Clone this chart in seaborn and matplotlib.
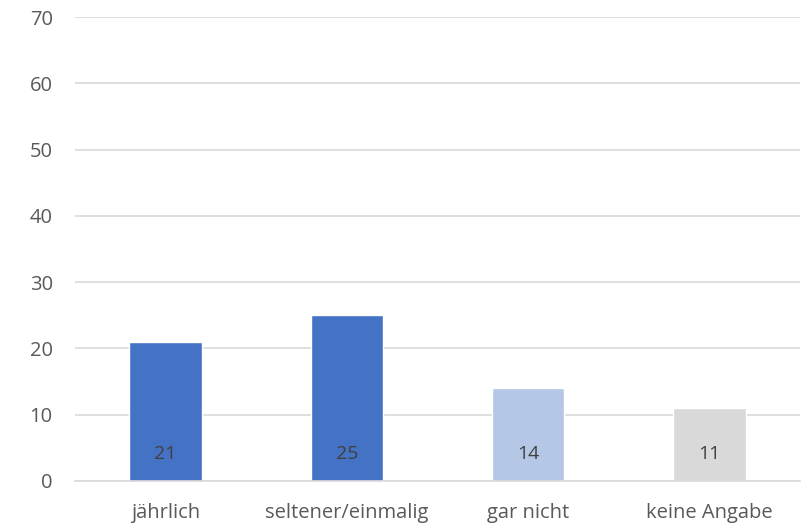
import matplotlib
matplotlib.use("Agg")
import matplotlib.pyplot as plt
import seaborn as sns
import pandas as pd

categories = ["jährlich", "seltener/einmalig", "gar nicht", "keine Angabe"]
values = [21, 25, 14, 11]
colors = ["#4472C4", "#4472C4", "#B4C7E7", "#D9D9D9"]
yticks = [0, 10, 20, 30, 40, 50, 60, 70]

sns.set_theme(style="white")
plt.rcParams["font.family"] = ["Open Sans", "DejaVu Sans"]

df = pd.DataFrame({"cat": categories, "val": values})

fig = plt.figure(figsize=(8.1, 5.25), dpi=100)
ax = fig.add_axes([75/810, 1-481/525, 725/810, (481-17)/525])

sns.barplot(data=df, x="cat", y="val", hue="cat", palette=colors, width=0.4,
            legend=False, ax=ax, saturation=1)

ax.set_ylim(0, 70)
ax.set_xlim(-0.5, len(categories) - 0.5)
ax.set_yticks(yticks)
ax.yaxis.grid(True, color="#D9D9D9", linewidth=1.2)
ax.set_axisbelow(True)
for s in ["top", "right", "left"]:
    ax.spines[s].set_visible(False)
ax.spines["bottom"].set_color("#D9D9D9")
ax.spines["bottom"].set_linewidth(1.2)
ax.set_xlabel("")
ax.set_ylabel("")
ax.tick_params(axis="both", length=0, labelsize=14.5, colors="#595959")
ax.tick_params(axis="y", pad=16)
ax.tick_params(axis="x", pad=16)

for i, v in enumerate(values):
    ax.annotate(str(v), xy=(i, 0), xytext=(0, 19.5), textcoords="offset points",
                ha="center", va="center", fontsize=14, color="#404040")

fig.savefig("out.png", dpi=100)
